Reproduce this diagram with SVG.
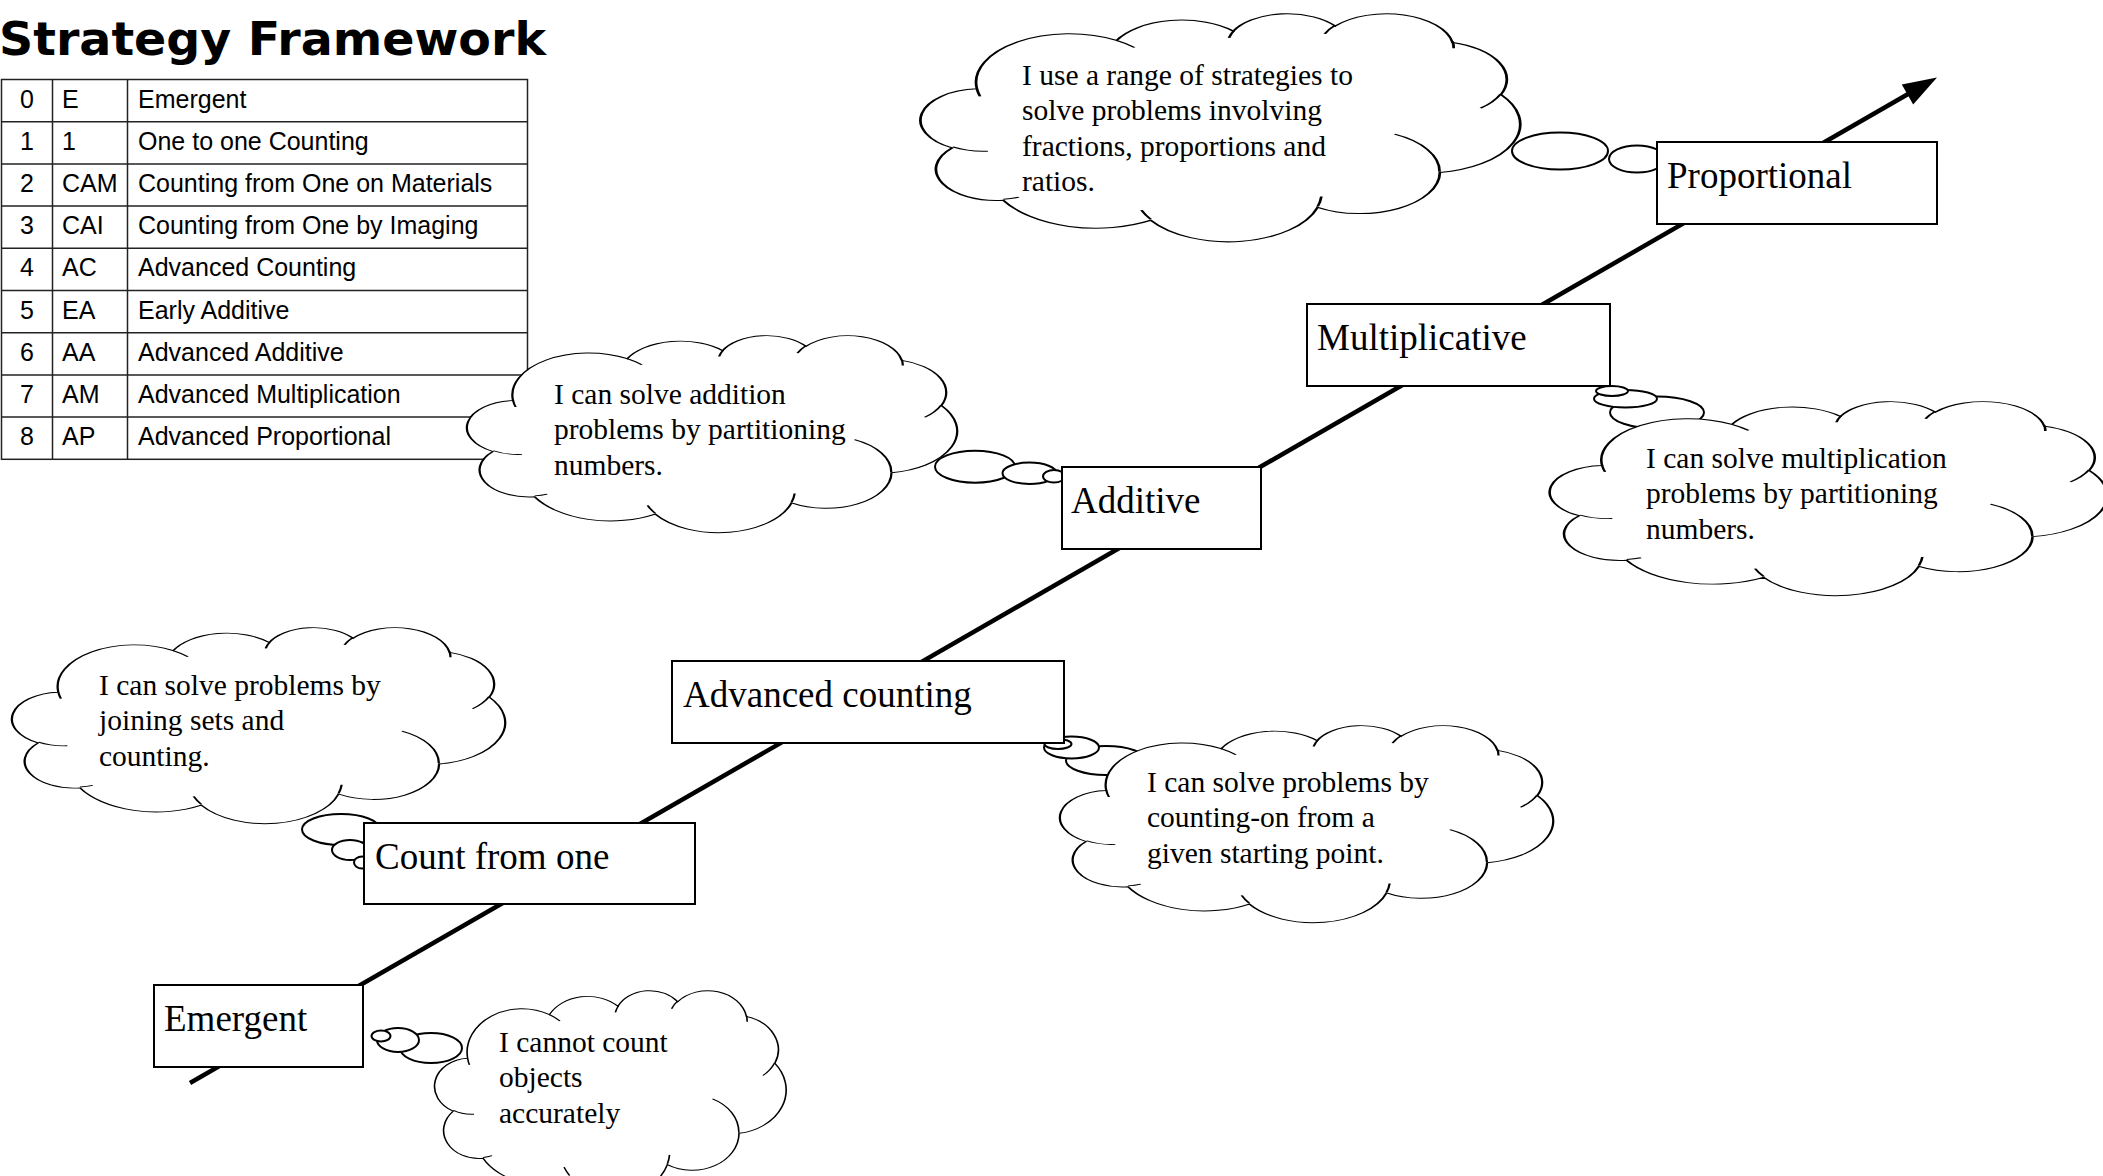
<svg xmlns="http://www.w3.org/2000/svg" width="2103" height="1176" viewBox="0 0 2103 1176">
  <defs>
    <style>
      .title { font-family: "DejaVu Sans", Verdana, sans-serif; font-weight: bold; font-size: 47px; fill: #000; }
      .tbl { font-family: "Liberation Sans", Arial, sans-serif; font-size: 25px; fill: #000; }
      .grid { stroke: #222; stroke-width: 1.5; fill: none; }
      .box { fill: #fff; stroke: #000; stroke-width: 2; }
      .boxtxt { font-family: "Liberation Serif", "Times New Roman", serif; font-size: 37px; fill: #000; }
      .cloudtxt { font-family: "Liberation Serif", "Times New Roman", serif; font-size: 29.5px; fill: #000; }
      .cloud { fill: #fff; stroke: #000; stroke-width: 2; }
      .inner { fill: none; stroke: #000; stroke-width: 2; }
      .bubble { fill: #fff; stroke: #000; stroke-width: 2; }
      .axis { stroke: #000; stroke-width: 4.5; fill: none; }
    </style>
    <!-- cloud outline in a 432 x 432 unit box -->
    <path id="cloudOutline" d="M39.00,143.70 A67.53,91.90 0 0 1 140.05,52.02 A53.33,72.67 0 0 1 224.55,34.32 A43.65,59.45 0 0 1 298.33,24.81 A48.57,65.95 0 0 1 383.18,55.77 A53.33,72.73 0 0 1 418.18,154.60 A67.75,92.20 0 0 1 374.03,302.01 A57.85,78.67 0 0 1 285.54,368.11 A67.52,92.15 0 0 1 164.79,392.63 A77.20,105.43 0 0 1 58.04,354.70 A43.60,59.18 0 0 1 21.13,255.48 A43.45,59.45 0 0 1 39.00,143.70 Z"/>
    <!-- short arcs that continue the bumps into the cloud -->
    <path id="cloudInner" d="M46.93,261.77 A43.45,59.45 0 0 1 21.60,253.80 M69.28,348.99 A43.60,59.18 0 0 1 58.20,352.81 M164.78,390.90 A67.52,92.15 0 0 1 158.09,373.48 M288.27,347.51 A67.52,92.15 0 0 1 285.61,366.61 M341.29,229.54 A57.85,78.67 0 0 1 373.81,300.89 M417.98,153.54 A53.33,72.73 0 0 1 403.50,180.30 M383.24,54.26 A48.57,65.95 0 0 1 384.01,66.90 M290.78,39.52 A48.57,65.95 0 0 1 298.20,23.39 M221.41,47.20 A43.65,59.45 0 0 1 225.00,33.31 M140.00,51.92 A67.53,91.90 0 0 1 153.00,65.40 M41.27,157.89 A67.53,91.90 0 0 1 39.01,143.70"/>
  </defs>

  <rect width="2103" height="1176" fill="#fff"/>

  <!-- title -->
  <text class="title" x="-1" y="55" textLength="547" lengthAdjust="spacingAndGlyphs">Strategy Framework</text>

  <!-- strategy table -->
  <g id="table">
    <rect class="grid" x="1.5" y="79.5" width="526" height="379.8"/>
    <line class="grid" x1="52.5" y1="79.5" x2="52.5" y2="459.3"/>
    <line class="grid" x1="127.5" y1="79.5" x2="127.5" y2="459.3"/>
    <line class="grid" x1="1.5" y1="121.7" x2="527.5" y2="121.7"/>
    <line class="grid" x1="1.5" y1="163.9" x2="527.5" y2="163.9"/>
    <line class="grid" x1="1.5" y1="206.1" x2="527.5" y2="206.1"/>
    <line class="grid" x1="1.5" y1="248.3" x2="527.5" y2="248.3"/>
    <line class="grid" x1="1.5" y1="290.5" x2="527.5" y2="290.5"/>
    <line class="grid" x1="1.5" y1="332.7" x2="527.5" y2="332.7"/>
    <line class="grid" x1="1.5" y1="374.9" x2="527.5" y2="374.9"/>
    <line class="grid" x1="1.5" y1="417.1" x2="527.5" y2="417.1"/>
    <g class="tbl">
      <text x="27" y="107.5" text-anchor="middle">0</text><text x="62" y="107.5">E</text><text x="138" y="107.5">Emergent</text>
      <text x="27" y="149.7" text-anchor="middle">1</text><text x="62" y="149.7">1</text><text x="138" y="149.7">One to one Counting</text>
      <text x="27" y="191.9" text-anchor="middle">2</text><text x="62" y="191.9">CAM</text><text x="138" y="191.9">Counting from One on Materials</text>
      <text x="27" y="234.1" text-anchor="middle">3</text><text x="62" y="234.1">CAI</text><text x="138" y="234.1">Counting from One by Imaging</text>
      <text x="27" y="276.3" text-anchor="middle">4</text><text x="62" y="276.3">AC</text><text x="138" y="276.3">Advanced Counting</text>
      <text x="27" y="318.5" text-anchor="middle">5</text><text x="62" y="318.5">EA</text><text x="138" y="318.5">Early Additive</text>
      <text x="27" y="360.7" text-anchor="middle">6</text><text x="62" y="360.7">AA</text><text x="138" y="360.7">Advanced Additive</text>
      <text x="27" y="402.9" text-anchor="middle">7</text><text x="62" y="402.9">AM</text><text x="138" y="402.9">Advanced Multiplication</text>
      <text x="27" y="445.1" text-anchor="middle">8</text><text x="62" y="445.1">AP</text><text x="138" y="445.1">Advanced Proportional</text>
    </g>
  </g>

  <!-- progression arrow -->
  <g id="connectors">
    <line class="axis" x1="190" y1="1083" x2="1909" y2="93.5"/>
    <polygon points="1937,77.5 1913.2,104.5 1901.8,84.5" fill="#000"/>
  </g>

  <!-- thought clouds -->
  <g id="cloud-proportional">
    <ellipse class="bubble" cx="1560" cy="151" rx="48" ry="18.5"/>
    <ellipse class="bubble" cx="1637" cy="159" rx="28" ry="13.5"/>
    <g transform="translate(923,13) scale(1.3819,0.5278)">
      <use href="#cloudOutline" class="cloud" vector-effect="non-scaling-stroke"/>
      <use href="#cloudInner" class="inner" vector-effect="non-scaling-stroke"/>
    </g>
    <text class="cloudtxt"><tspan x="1022" y="85">I use a range of strategies to</tspan><tspan x="1022" y="120.3">solve problems involving</tspan><tspan x="1022" y="155.6">fractions, proportions and</tspan><tspan x="1022" y="190.9">ratios.</tspan></text>
  </g>

  <g id="cloud-additive">
    <ellipse class="bubble" cx="975" cy="466.7" rx="40" ry="16"/>
    <ellipse class="bubble" cx="1029.5" cy="473.3" rx="27" ry="10.7"/>
    <ellipse class="bubble" cx="1054" cy="476.3" rx="11" ry="6.3"/>
    <g transform="translate(469,335) scale(1.1296,0.4560)">
      <use href="#cloudOutline" class="cloud" vector-effect="non-scaling-stroke"/>
      <use href="#cloudInner" class="inner" vector-effect="non-scaling-stroke"/>
    </g>
    <text class="cloudtxt"><tspan x="554" y="404">I can solve addition</tspan><tspan x="554" y="439.3">problems by partitioning</tspan><tspan x="554" y="474.6">numbers.</tspan></text>
  </g>

  <g id="cloud-multiplicative">
    <ellipse class="bubble" cx="1657" cy="412.5" rx="47" ry="16"/>
    <ellipse class="bubble" cx="1625.5" cy="398.7" rx="31.5" ry="8.7"/>
    <ellipse class="bubble" cx="1612" cy="391" rx="16" ry="5"/>
    <g transform="translate(1552,401) scale(1.2847,0.4491)">
      <use href="#cloudOutline" class="cloud" vector-effect="non-scaling-stroke"/>
      <use href="#cloudInner" class="inner" vector-effect="non-scaling-stroke"/>
    </g>
    <text class="cloudtxt"><tspan x="1646" y="468">I can solve multiplication</tspan><tspan x="1646" y="503.3">problems by partitioning</tspan><tspan x="1646" y="538.6">numbers.</tspan></text>
  </g>

  <g id="cloud-count-from-one">
    <ellipse class="bubble" cx="341" cy="829.5" rx="39" ry="15.5"/>
    <ellipse class="bubble" cx="350" cy="850" rx="18" ry="10"/>
    <ellipse class="bubble" cx="362" cy="862.5" rx="8" ry="6"/>
    <g transform="translate(14,627) scale(1.1366,0.4537)">
      <use href="#cloudOutline" class="cloud" vector-effect="non-scaling-stroke"/>
      <use href="#cloudInner" class="inner" vector-effect="non-scaling-stroke"/>
    </g>
    <text class="cloudtxt"><tspan x="99" y="695">I can solve problems by</tspan><tspan x="99" y="730.3">joining sets and</tspan><tspan x="99" y="765.6">counting.</tspan></text>
  </g>

  <g id="cloud-advanced-counting">
    <ellipse class="bubble" cx="1106" cy="760.5" rx="40" ry="14.5"/>
    <ellipse class="bubble" cx="1071.5" cy="747.5" rx="27.5" ry="11"/>
    <ellipse class="bubble" cx="1058" cy="744" rx="13.5" ry="5"/>
    <g transform="translate(1062,725) scale(1.1366,0.4560)">
      <use href="#cloudOutline" class="cloud" vector-effect="non-scaling-stroke"/>
      <use href="#cloudInner" class="inner" vector-effect="non-scaling-stroke"/>
    </g>
    <text class="cloudtxt"><tspan x="1147" y="792">I can solve problems by</tspan><tspan x="1147" y="827.3">counting-on from a</tspan><tspan x="1147" y="862.6">given starting point.</tspan></text>
  </g>

  <g id="cloud-emergent">
    <ellipse class="bubble" cx="431" cy="1048" rx="31" ry="15"/>
    <ellipse class="bubble" cx="398" cy="1040" rx="21" ry="12"/>
    <ellipse class="bubble" cx="381" cy="1036" rx="9.5" ry="5.5"/>
    <g transform="translate(436,990) scale(0.8102,0.4745)">
      <use href="#cloudOutline" class="cloud" vector-effect="non-scaling-stroke"/>
      <use href="#cloudInner" class="inner" vector-effect="non-scaling-stroke"/>
    </g>
    <text class="cloudtxt"><tspan x="499" y="1052">I cannot count</tspan><tspan x="499" y="1087.3">objects</tspan><tspan x="499" y="1122.6">accurately</tspan></text>
  </g>

  <!-- stage boxes -->
  <g id="stage-emergent">
    <rect class="box" x="154" y="985" width="209" height="82"/>
    <text class="boxtxt" x="164" y="1031">Emergent</text>
  </g>
  <g id="stage-count-from-one">
    <rect class="box" x="364" y="823" width="331" height="81"/>
    <text class="boxtxt" x="375" y="868.5">Count from one</text>
  </g>
  <g id="stage-advanced-counting">
    <rect class="box" x="672" y="661" width="392" height="82"/>
    <text class="boxtxt" x="683" y="706.5">Advanced counting</text>
  </g>
  <g id="stage-additive">
    <rect class="box" x="1062" y="467" width="199" height="82"/>
    <text class="boxtxt" x="1071" y="512.5">Additive</text>
  </g>
  <g id="stage-multiplicative">
    <rect class="box" x="1307" y="304" width="303" height="82"/>
    <text class="boxtxt" x="1317" y="349.5">Multiplicative</text>
  </g>
  <g id="stage-proportional">
    <rect class="box" x="1657" y="142" width="280" height="82"/>
    <text class="boxtxt" x="1667" y="188">Proportional</text>
  </g>
</svg>
